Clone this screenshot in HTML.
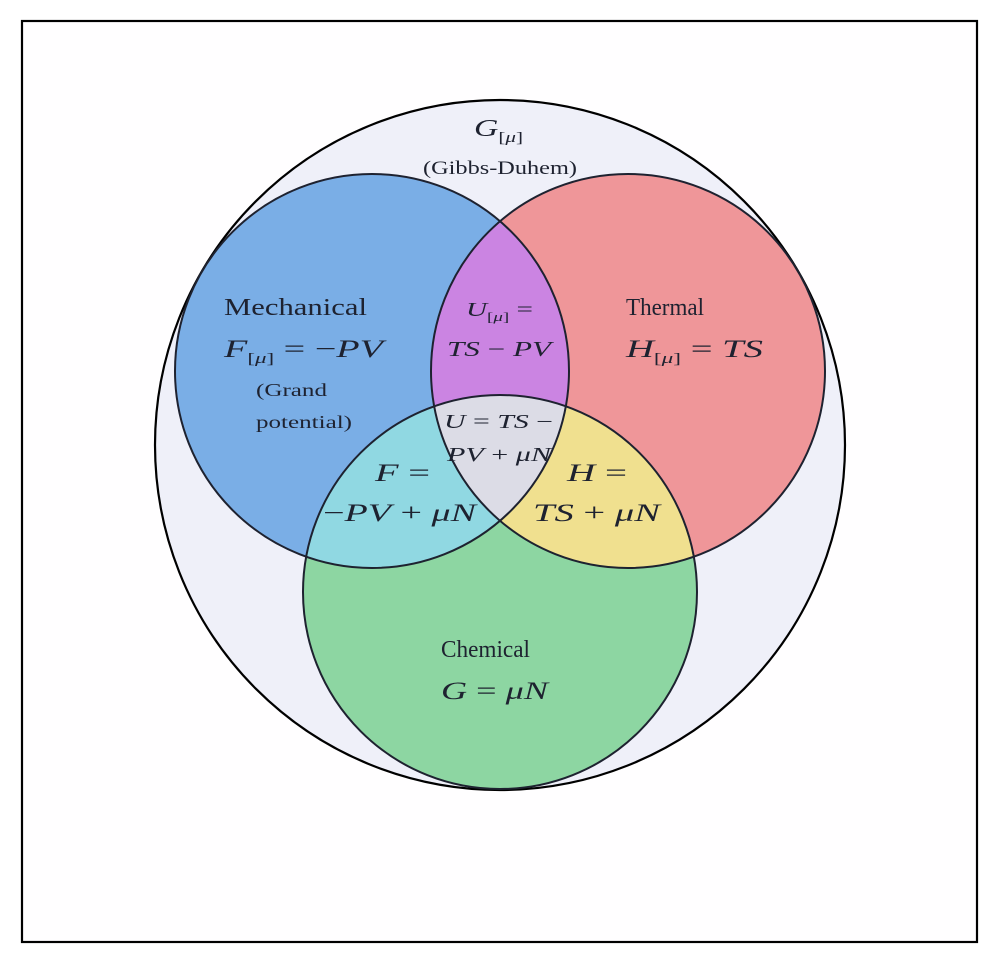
<!DOCTYPE html>
<html><head><meta charset="utf-8"><style>
body{margin:0;background:#fff;}
svg{display:block;}
text{font-family:"Liberation Serif","DejaVu Serif",serif;fill:#1e2230;}
.i{font-style:italic;}
</style></head><body>
<svg width="999" height="965" viewBox="0 0 999 965" xmlns="http://www.w3.org/2000/svg">
<defs>
<clipPath id="cb"><circle cx="372" cy="371" r="197"/></clipPath>
<clipPath id="cr"><circle cx="628" cy="371" r="197"/></clipPath>
<clipPath id="cg"><circle cx="500" cy="592" r="197"/></clipPath>
</defs>
<rect x="22" y="21" width="955" height="921" fill="#fffeff" stroke="#000" stroke-width="2.2"/>
<circle cx="500" cy="445" r="345" fill="#eff0f9" stroke="#000" stroke-width="2.2"/>
<circle cx="372" cy="371" r="197" fill="#7aaee6"/>
<circle cx="628" cy="371" r="197" fill="#ef9699"/>
<circle cx="500" cy="592" r="197" fill="#8dd6a2"/>
<g clip-path="url(#cb)"><circle cx="628" cy="371" r="197" fill="#cb84e2"/><circle cx="500" cy="592" r="197" fill="#90d8e2"/></g>
<g clip-path="url(#cr)"><circle cx="500" cy="592" r="197" fill="#f0e08f"/></g>
<g clip-path="url(#cb)"><g clip-path="url(#cr)"><circle cx="500" cy="592" r="197" fill="#dcdce6"/></g></g>
<g fill="none" stroke="#1e2230" stroke-width="2">
<circle cx="372" cy="371" r="197"/><circle cx="628" cy="371" r="197"/><circle cx="500" cy="592" r="197"/>
</g>
<text x="474" y="136" font-size="24" textLength="49" lengthAdjust="spacingAndGlyphs"><tspan class="i">G</tspan><tspan font-size="15" dy="6">[</tspan><tspan font-size="15" class="i">μ</tspan><tspan font-size="15">]</tspan></text>
<text x="423" y="174" font-size="19" textLength="154" lengthAdjust="spacingAndGlyphs">(Gibbs-Duhem)</text>
<text x="224" y="315" font-size="24" textLength="143" lengthAdjust="spacingAndGlyphs">Mechanical</text>
<text x="224" y="357" font-size="25" textLength="159" lengthAdjust="spacingAndGlyphs"><tspan class="i">F</tspan><tspan font-size="15" dy="6">[</tspan><tspan font-size="15" class="i">μ</tspan><tspan font-size="15">]</tspan><tspan dy="-6"> = −</tspan><tspan class="i">PV</tspan></text>
<text x="256" y="396" font-size="18" textLength="71" lengthAdjust="spacingAndGlyphs">(Grand</text>
<text x="256" y="428" font-size="18" textLength="96" lengthAdjust="spacingAndGlyphs">potential)</text>
<text x="626" y="315" font-size="24" textLength="78" lengthAdjust="spacingAndGlyphs">Thermal</text>
<text x="626" y="357" font-size="25" textLength="137" lengthAdjust="spacingAndGlyphs"><tspan class="i">H</tspan><tspan font-size="15" dy="6">[</tspan><tspan font-size="15" class="i">μ</tspan><tspan font-size="15">]</tspan><tspan dy="-6"> = </tspan><tspan class="i">TS</tspan></text>
<text x="466" y="316" font-size="20" textLength="67" lengthAdjust="spacingAndGlyphs"><tspan class="i">U</tspan><tspan font-size="13" dy="5">[</tspan><tspan font-size="13" class="i">μ</tspan><tspan font-size="13">]</tspan><tspan dy="-5"> =</tspan></text>
<text x="447" y="356" font-size="21" textLength="104" lengthAdjust="spacingAndGlyphs"><tspan class="i">TS</tspan> − <tspan class="i">PV</tspan></text>
<text x="444" y="428" font-size="20" textLength="109" lengthAdjust="spacingAndGlyphs"><tspan class="i">U</tspan> = <tspan class="i">TS</tspan> −</text>
<text x="447" y="461" font-size="20" textLength="104" lengthAdjust="spacingAndGlyphs"><tspan class="i">PV</tspan> + <tspan class="i">μN</tspan></text>
<text x="375" y="481" font-size="25" textLength="55" lengthAdjust="spacingAndGlyphs"><tspan class="i">F</tspan> =</text>
<text x="323" y="521" font-size="25" textLength="153" lengthAdjust="spacingAndGlyphs">−<tspan class="i">PV</tspan> + <tspan class="i">μN</tspan></text>
<text x="567" y="481" font-size="25" textLength="60" lengthAdjust="spacingAndGlyphs"><tspan class="i">H</tspan> =</text>
<text x="533" y="521" font-size="25" textLength="127" lengthAdjust="spacingAndGlyphs"><tspan class="i">TS</tspan> + <tspan class="i">μN</tspan></text>
<text x="441" y="657" font-size="24" textLength="89" lengthAdjust="spacingAndGlyphs">Chemical</text>
<text x="441" y="699" font-size="25" textLength="107" lengthAdjust="spacingAndGlyphs"><tspan class="i">G</tspan> = <tspan class="i">μN</tspan></text>
</svg>
</body></html>
